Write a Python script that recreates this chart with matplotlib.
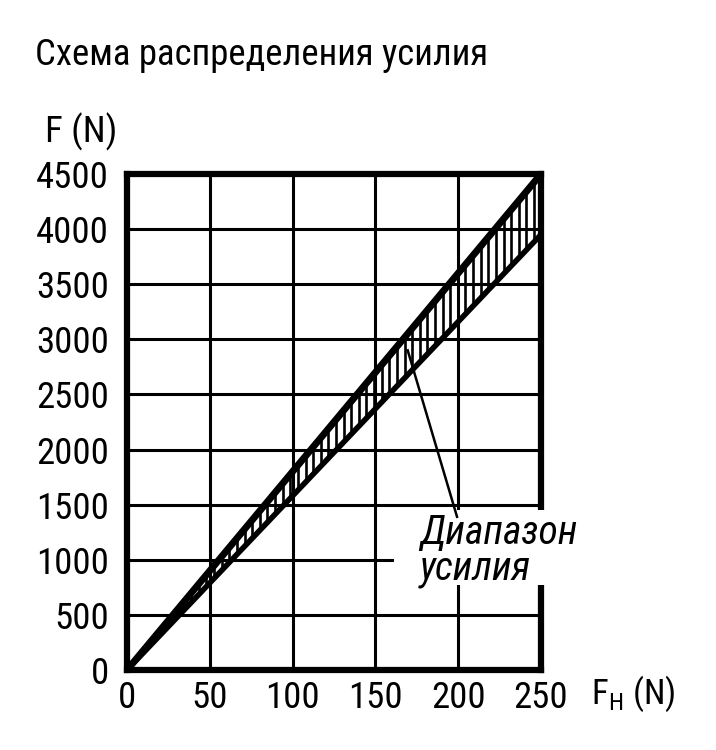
import numpy as np
import matplotlib
matplotlib.use("Agg")
import matplotlib.pyplot as plt
from matplotlib.patches import Rectangle
from matplotlib import font_manager

names = sorted({f.name for f in font_manager.fontManager.ttflist})
fam = [n for n in ['Roboto Condensed', 'Liberation Sans Narrow', 'Roboto'] if n in names]
plt.rcParams['font.family'] = fam + ['DejaVu Sans']

# Data
fh = [0, 250]
f_upper = [0, 4500]
f_lower = [0, 3950]
x_ticks = [0, 50, 100, 150, 200, 250]
y_ticks = [0, 500, 1000, 1500, 2000, 2500, 3000, 3500, 4000, 4500]
title = "Схема распределения усилия"
label = "Диапазон\nусилия"

FS = 26.5

fig = plt.figure(figsize=(7.16, 7.5), dpi=100)
ax = fig.add_axes([127/716, 1-670/750, 414/716, 496/750])
ax.set_xlim(0, 250)
ax.set_ylim(0, 4500)
ax.set_xticks(x_ticks)
ax.set_yticks(y_ticks)
ax.grid(True, color='black', linewidth=2.2, zorder=1)
ax.set_axisbelow(True)
for s in ax.spines.values():
    s.set_linewidth(4.5)
    s.set_zorder(2.5)
ax.tick_params(length=0, labelsize=FS, pad=13)
ax.tick_params(axis='x', pad=7)

# hatch band
hx = np.arange(2, 250, 4.6)
ax.vlines(hx, np.interp(hx, fh, f_lower), np.interp(hx, fh, f_upper),
          color='black', linewidth=1.9, zorder=3)
ax.plot(fh, f_upper, color='black', linewidth=5, zorder=4, solid_capstyle='butt')
ax.plot(fh, f_lower, color='black', linewidth=4, zorder=4, solid_capstyle='butt')

# label box
ax.add_patch(Rectangle((161, 770), 95, 680, facecolor='white', edgecolor='none',
                       zorder=5, clip_on=False))
ax.plot([169.5, 199.3], [2900, 1390], color='black', linewidth=1.8, zorder=6)
ax.text(177, 820, label, fontsize=28.5, style='italic', ha='left', va='baseline',
        linespacing=0.92, zorder=7)

fig.text(35/716, 1-65/750, title, fontsize=FS, ha='left', va='baseline')
fig.text(45/716, 1-142/750, "F (N)", fontsize=FS, ha='left', va='baseline')
fig.text(591/716, 1-704/750, r"F$_{\mathregular{H}}$ (N)", fontsize=25, ha='left', va='baseline')

fig.savefig("out.png", dpi=100)
